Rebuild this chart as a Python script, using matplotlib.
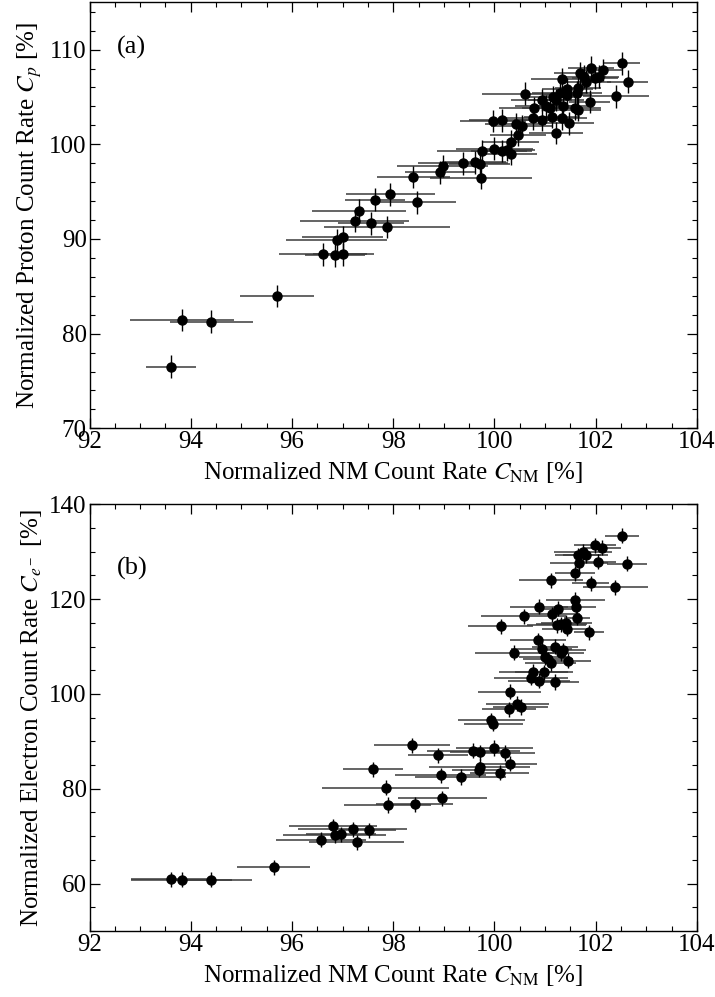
import matplotlib
matplotlib.use("Agg")
import matplotlib.pyplot as plt
from matplotlib.ticker import MultipleLocator

plt.rcParams['font.family'] = ['Liberation Serif', 'DejaVu Serif']
plt.rcParams['mathtext.fontset'] = 'stix'

# panel (a): NM count rate vs proton count rate
xa = [93.61, 93.82, 94.40, 95.71, 96.62, 96.85, 97.01, 96.88, 97.00, 97.24,
      97.33, 97.56, 97.88, 97.64, 97.94, 98.46, 98.40, 98.92, 98.98, 99.37,
      99.62, 99.71, 99.74, 99.75, 100.00, 100.14, 100.25, 100.33, 100.32, 100.47,
      101.21, 99.97, 100.15, 100.42, 100.54, 100.76, 100.93, 101.13, 101.33, 101.47,
      100.79, 101.01, 101.09, 101.35, 101.60, 101.65, 100.93, 101.22, 101.43, 101.15,
      101.29, 101.62, 101.44, 101.65, 100.60, 101.88, 102.40, 101.33, 101.81, 101.68,
      101.76, 101.98, 102.06, 101.91, 102.14, 102.52, 102.63]
ya = [76.5, 81.44, 81.26, 83.97, 88.37, 88.27, 88.37, 89.9, 90.17, 91.89,
      92.98, 91.65, 91.27, 94.14, 94.73, 93.88, 96.54, 97.03, 97.7, 97.98,
      98.09, 97.9, 96.43, 99.28, 99.53, 99.28, 99.39, 98.97, 100.27, 101.0,
      101.18, 102.45, 102.55, 102.13, 101.92, 102.73, 102.6, 102.9, 102.73, 102.2,
      103.79, 104.03, 103.79, 104.03, 103.79, 103.61, 104.67, 104.67, 105.2, 105.0,
      105.44, 105.44, 105.8, 105.9, 105.33, 104.49, 105.06, 106.88, 106.6, 107.49,
      107.13, 107.02, 107.13, 108.08, 107.84, 108.54, 106.6]
xerr_a = [0.5, 1.03, 0.82, 0.73, 0.87, 0.6, 0.6, 1.0, 0.8, 1.08,
          0.93, 0.66, 1.24, 0.6, 0.88, 0.77, 0.73, 0.69, 0.9, 0.89,
          0.6, 0.6, 1.01, 0.89, 0.76, 0.6, 0.55, 0.5, 0.55, 0.55,
          0.53, 0.66, 0.66, 0.6, 0.6, 0.6, 0.55, 0.55, 0.5, 0.5,
          0.7, 0.6, 0.55, 0.5, 0.5, 0.45, 0.6, 0.55, 0.5, 0.55,
          0.55, 0.5, 0.5, 0.45, 0.84, 0.4, 0.65, 0.6, 0.5, 0.5,
          0.45, 0.45, 0.4, 0.45, 0.4, 0.35, 0.41]
yerr_a = 1.2

# panel (b): NM count rate vs electron count rate
xb = [93.61, 93.82, 94.40, 95.64, 96.57, 96.81, 96.84, 96.96, 97.20, 97.28,
      97.52, 97.60, 97.85, 97.89, 98.37, 98.42, 98.88, 98.94, 98.97, 99.33,
      99.58, 99.70, 99.71, 99.72, 99.94, 99.98, 100.00, 100.10, 100.12, 100.21,
      100.29, 100.30, 100.30, 100.39, 100.45, 100.52, 100.58, 100.73, 100.77, 100.86,
      100.88, 100.88, 100.93, 100.98, 100.99, 101.06, 101.11, 101.12, 101.13, 101.19,
      101.20, 101.23, 101.26, 101.32, 101.32, 101.35, 101.42, 101.43, 101.45, 101.59,
      101.60, 101.61, 101.63, 101.65, 101.67, 101.75, 101.80, 101.87, 101.90, 101.99,
      102.05, 102.13, 102.39, 102.52, 102.62]
yb = [60.9, 60.8, 60.8, 63.46, 69.25, 72.06, 70.23, 70.44, 71.43, 68.74,
      71.22, 84.11, 80.24, 76.56, 89.21, 76.71, 87.09, 82.84, 77.97, 82.49,
      88.0, 84.05, 84.6, 87.7, 94.45, 93.75, 88.6, 83.41, 114.3, 87.54,
      96.77, 100.5, 85.31, 108.66, 97.97, 97.25, 116.41, 103.38, 104.65, 111.28,
      118.37, 102.83, 109.5, 104.58, 107.69, 107.27, 106.42, 124.0, 116.77, 102.53,
      109.93, 114.5, 118.0, 114.72, 108.53, 109.23, 115.0, 113.8, 106.97, 125.43,
      119.8, 118.37, 116.06, 129.23, 127.54, 129.93, 129.23, 113.03, 123.3, 131.34,
      127.88, 130.84, 122.47, 133.37, 127.46]
xerr_b = [0.8, 1.0, 0.8, 0.72, 0.89, 0.86, 1.02, 0.69, 1.08, 0.94,
          0.53, 0.59, 1.25, 0.86, 0.75, 0.76, 0.59, 0.9, 0.88, 0.9,
          0.92, 0.53, 1.0, 0.59, 0.67, 0.59, 0.77, 0.59, 0.64, 0.59,
          0.53, 0.62, 0.53, 0.78, 0.62, 0.54, 0.84, 0.73, 0.68, 0.56,
          0.58, 0.62, 0.6, 0.58, 0.5, 0.5, 0.5, 0.63, 0.56, 0.48,
          0.45, 0.58, 0.36, 0.5, 0.45, 0.45, 0.5, 0.5, 0.45, 0.39,
          0.59, 0.39, 0.26, 0.46, 0.57, 0.57, 0.45, 0.29, 0.36, 0.41,
          0.36, 0.36, 0.64, 0.34, 0.4]
yerr_b = 1.6

fig = plt.figure(figsize=(7.15, 9.97), dpi=100)
ax1 = fig.add_axes([0.1252, 0.5704, 0.8496, 0.4273])
ax2 = fig.add_axes([0.1252, 0.0662, 0.8496, 0.4280])

xlabel = r"Normalized NM Count Rate $C_{\rm NM}$ [%]"

def style(ax, ymaj, ymin):
    ax.set_xlim(92, 104)
    ax.xaxis.set_major_locator(MultipleLocator(2))
    ax.xaxis.set_minor_locator(MultipleLocator(0.5))
    ax.yaxis.set_major_locator(MultipleLocator(ymaj))
    ax.yaxis.set_minor_locator(MultipleLocator(ymin))
    ax.tick_params(which='both', direction='in', top=True, right=True, labelsize=18)
    ax.tick_params(which='major', length=7, width=0.9, pad=2)
    ax.tick_params(which='minor', length=3.5, width=0.8)
    for s in ax.spines.values():
        s.set_linewidth(1.0)
    ax.set_xlabel(xlabel, fontsize=18, labelpad=5)

for ax, x, y, xe, ye in [(ax1, xa, ya, xerr_a, yerr_a), (ax2, xb, yb, xerr_b, yerr_b)]:
    ax.errorbar(x, y, xerr=xe, fmt='none', ecolor='#3a3a3a', elinewidth=1.1, capsize=0)
    ax.errorbar(x, y, yerr=ye, fmt='o', color='black', ms=6.5, elinewidth=1.0, capsize=0)

style(ax1, 10, 2)
ax1.set_ylim(70, 115)
ax1.set_ylabel(r"Normalized Proton Count Rate $C_p$ [%]", fontsize=18, labelpad=4)
ax1.text(0.045, 0.893, "(a)", transform=ax1.transAxes, fontsize=19, va='center')

style(ax2, 20, 5)
ax2.set_ylim(50, 140)
ax2.set_ylabel(r"Normalized Electron Count Rate $C_{e^-}$ [%]", fontsize=18, labelpad=4)
ax2.text(0.045, 0.85, "(b)", transform=ax2.transAxes, fontsize=19, va='center')

fig.savefig("out.png", dpi=100)
